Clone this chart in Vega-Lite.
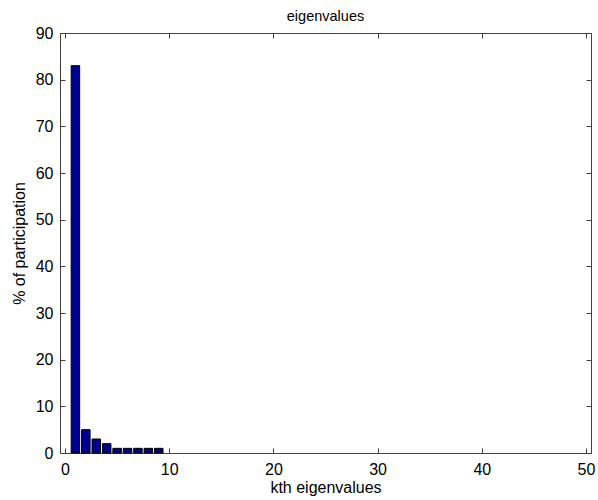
{
  "$schema": "https://vega.github.io/schema/vega-lite/v6.json",
  "width": 531,
  "height": 420,
  "autosize": {"type": "none"},
  "padding": {"left": 60, "top": 33, "right": 7, "bottom": 47},
  "background": "white",
  "title": {"text": "eigenvalues", "font": "Liberation Sans", "fontSize": 14.5, "fontWeight": "normal", "color": "black", "offset": 1},
  "config": {
    "view": {"stroke": "#404040", "strokeWidth": 1},
    "axis": {
      "grid": false,
      "domain": false,
      "tickColor": "#404040",
      "tickSize": -5,
      "labelFont": "Liberation Sans",
      "labelFontSize": 16,
      "labelColor": "black",
      "titleFont": "Liberation Sans",
      "titleFontSize": 16,
      "titleFontWeight": "normal",
      "titleColor": "black"
    }
  },
  "data": {"values": [
    {"k": 1, "pct": 83},
    {"k": 2, "pct": 5},
    {"k": 3, "pct": 3},
    {"k": 4, "pct": 2},
    {"k": 5, "pct": 1},
    {"k": 6, "pct": 1},
    {"k": 7, "pct": 1},
    {"k": 8, "pct": 1},
    {"k": 9, "pct": 1}
  ]},
  "resolve": {"axis": {"x": "independent", "y": "independent"}},
  "layer": [
    {
      "mark": {"type": "bar", "width": 8.5, "fill": "#000090", "stroke": "black", "strokeWidth": 1},
      "encoding": {
        "x": {"field": "k", "type": "quantitative", "scale": {"domain": [0, 50], "nice": false, "zero": false},
          "axis": {"orient": "bottom", "values": [0, 10, 20, 30, 40, 50], "title": "kth eigenvalues", "labelPadding": 13, "titlePadding": 2}},
        "y": {"field": "pct", "type": "quantitative", "scale": {"domain": [0, 90], "nice": false},
          "axis": {"orient": "left", "values": [0, 10, 20, 30, 40, 50, 60, 70, 80, 90], "title": "% of participation", "labelPadding": 12, "titlePadding": 8}}
      }
    },
    {
      "mark": {"type": "rule", "opacity": 0},
      "encoding": {
        "x": {"field": "k", "type": "quantitative",
          "axis": {"orient": "top", "values": [0, 10, 20, 30, 40, 50], "labels": false, "title": null}},
        "y": {"field": "pct", "type": "quantitative",
          "axis": {"orient": "right", "values": [0, 10, 20, 30, 40, 50, 60, 70, 80, 90], "labels": false, "title": null}}
      }
    }
  ]
}
